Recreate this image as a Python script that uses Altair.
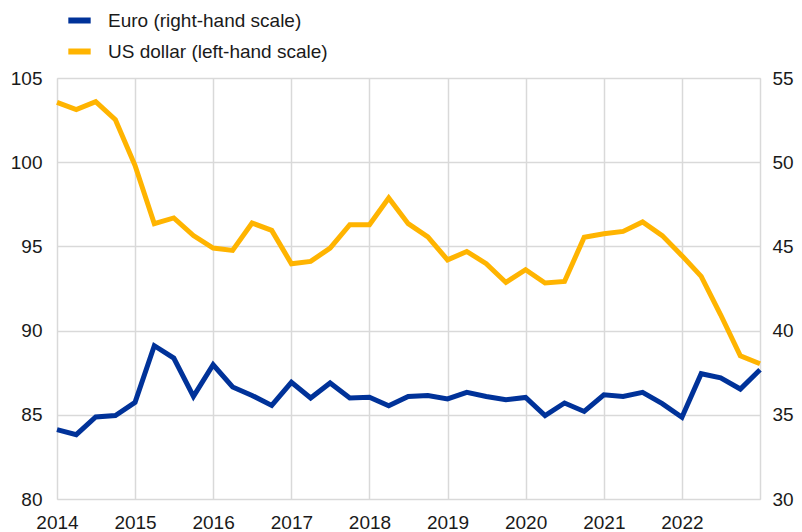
import altair as alt
import pandas as pd

quarters = pd.date_range("2014-01-01", "2023-01-01", freq="QS")

euro = [34.12, 33.82, 34.87, 34.96, 35.74, 39.10, 38.37, 36.09, 37.97, 36.65,
        36.15, 35.56, 36.93, 36.00, 36.89, 36.00, 36.04, 35.54, 36.09, 36.15,
        35.94, 36.33, 36.09, 35.90, 36.03, 34.95, 35.70, 35.20, 36.19, 36.09,
        36.33, 35.66, 34.85, 37.44, 37.19, 36.53, 37.68]

usd = [103.55, 103.12, 103.60, 102.52, 99.80, 96.35, 96.69, 95.64, 94.90, 94.76,
       96.39, 95.95, 93.97, 94.11, 94.90, 96.29, 96.29, 97.87, 96.35, 95.56,
       94.20, 94.70, 93.97, 92.86, 93.62, 92.83, 92.92, 95.54, 95.75, 95.89,
       96.45, 95.64, 94.45, 93.22, 90.94, 88.50, 88.03]

series_names = ["Euro (right-hand scale)", "US dollar (left-hand scale)"]
series_colors = ["#003299", "#FFB400"]

df_eur = pd.DataFrame({"date": quarters, "value": euro, "series": series_names[0]})
df_usd = pd.DataFrame({"date": quarters, "value": usd, "series": series_names[1]})

FONT = "Liberation Sans"
GRID = "#d9d9d9"
TXT = "#1a1a1a"
FS = 19

x_enc = alt.X(
    "date:T",
    scale=alt.Scale(domain=["2014-01-01", "2023-01-01"]),
    axis=alt.Axis(
        title=None, format="%Y", tickCount="year", grid=True, gridColor=GRID,
        gridWidth=1.5, ticks=False, domain=False, labelFontSize=FS,
        labelColor=TXT, labelPadding=14, labelFont=FONT, labelFlush=False,
        labelOverlap=False,
        labelExpr="year(datum.value) == 2023 ? '' : timeFormat(datum.value, '%Y')",
    ),
)

color_enc = alt.Color(
    "series:N",
    scale=alt.Scale(domain=series_names, range=series_colors),
    legend=alt.Legend(
        title=None, orient="none", legendX=8, legendY=-72, symbolType="stroke",
        symbolStrokeWidth=6, symbolSize=500, labelFontSize=FS, labelFont=FONT,
        labelColor=TXT, rowPadding=4, padding=0, labelOffset=14, labelLimit=500,
    ),
)

usd_line = alt.Chart(df_usd).mark_line(strokeWidth=5, strokeJoin="miter").encode(
    x=x_enc,
    y=alt.Y(
        "value:Q",
        scale=alt.Scale(domain=[80, 105], nice=False),
        axis=alt.Axis(
            title=None, values=[80, 85, 90, 95, 100, 105], grid=True, gridColor=GRID,
            gridWidth=1.5, ticks=False, domain=False, labelFontSize=FS,
            labelColor=TXT, labelPadding=15, labelFont=FONT,
        ),
    ),
    color=color_enc,
)

eur_line = alt.Chart(df_eur).mark_line(strokeWidth=5, strokeJoin="miter").encode(
    x=x_enc,
    y=alt.Y(
        "value:Q",
        scale=alt.Scale(domain=[30, 55], nice=False),
        axis=alt.Axis(
            title=None, orient="right", values=[30, 35, 40, 45, 50, 55], grid=False,
            ticks=False, domain=False, labelFontSize=FS, labelColor=TXT,
            labelPadding=12, labelFont=FONT,
        ),
    ),
    color=color_enc,
)

chart = (
    alt.layer(usd_line, eur_line)
    .resolve_scale(y="independent")
    .properties(
        width=703, height=421,
        autosize=alt.AutoSizeParams(type="none"),
        padding={"left": 49, "top": 70, "right": 34, "bottom": 33},
    )
    .configure_view(stroke=GRID, strokeWidth=1.5)
    .configure(font=FONT)
)

chart.save("out.html", embed_options={"renderer": "svg", "actions": False})
